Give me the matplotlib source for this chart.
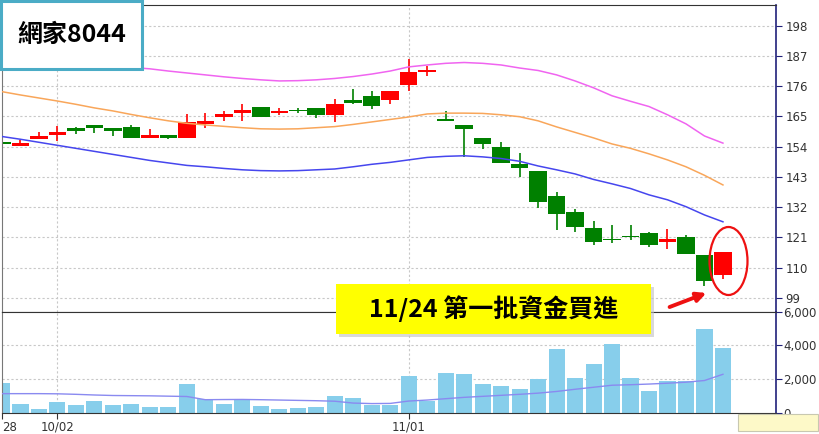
import numpy as np
import matplotlib
matplotlib.use("Agg")
import matplotlib.pyplot as plt
from matplotlib.patches import Rectangle, Ellipse, FancyArrowPatch

# daily data, 2017/09/28 .. 2017/11/24 (40 trading days)
opens = [155.6, 154.4, 156.8, 158.3, 160.7, 161.8, 160.7, 161.1, 157.3, 158.3,
         157.3, 162.4, 164.9, 166.4, 168.3, 166.2, 167.3, 168.0, 165.6, 170.9,
         172.5, 171.0, 176.5, 181.3, 163.7, 161.9, 157.1, 153.8, 147.7, 145.0,
         135.9, 130.4, 124.4, 120.5, 121.7, 122.8, 119.3, 121.3, 114.7, 107.2]
highs = [156.0, 156.5, 159.3, 161.7, 161.1, 161.9, 160.7, 161.9, 160.4, 158.3,
         165.8, 166.3, 167.1, 169.5, 168.5, 168.0, 168.2, 168.0, 171.2, 174.9,
         174.4, 174.4, 185.7, 183.2, 167.1, 161.9, 157.1, 155.6, 151.6, 145.0,
         137.7, 131.3, 127.1, 125.6, 125.6, 123.1, 124.1, 121.9, 114.7, 115.9]
lows = [154.6, 154.2, 156.8, 156.1, 158.5, 158.8, 157.9, 157.3, 157.3, 156.7,
        157.3, 160.7, 163.3, 163.5, 164.7, 165.6, 166.2, 164.6, 162.8, 169.4,
        167.6, 169.5, 174.4, 179.7, 163.5, 150.4, 153.1, 148.0, 143.1, 131.6,
        123.8, 123.0, 118.3, 118.9, 120.1, 117.5, 116.8, 115.0, 103.2, 105.9]
closes = [154.8, 155.5, 158.0, 159.3, 159.8, 160.7, 159.7, 157.3, 158.3, 157.3,
          163.1, 163.4, 165.8, 167.4, 164.9, 167.0, 166.9, 165.6, 169.5, 170.0,
          168.8, 174.4, 181.3, 181.8, 163.5, 160.5, 154.9, 148.0, 146.2, 133.8,
          129.6, 124.9, 119.3, 120.0, 121.1, 118.3, 120.4, 115.0, 105.3, 115.7]

band_up = [186.0, 185.5, 185.0, 184.5, 184.0, 183.5, 183.2, 182.8, 182.3, 181.5,
           180.8, 180.1, 179.4, 178.8, 178.3, 177.9, 178.0, 178.3, 178.8, 179.5,
           180.4, 181.5, 183.0, 183.7, 184.3, 184.6, 184.3, 183.7, 182.6, 181.7,
           180.1, 177.9, 175.4, 172.5, 170.5, 168.6, 165.6, 162.3, 157.9, 155.3]
band_mid = [174.0, 172.8, 171.7, 170.6, 169.4, 168.1, 167.0, 165.7, 164.5, 163.4,
            162.5, 161.9, 161.4, 160.9, 160.5, 160.4, 160.5, 160.9, 161.3, 162.1,
            163.0, 163.9, 164.8, 165.9, 166.2, 166.2, 166.1, 165.6, 164.9, 163.4,
            161.2, 159.2, 157.2, 155.0, 153.4, 151.4, 149.2, 146.7, 143.6, 140.1]
band_low = [157.7, 156.7, 155.6, 154.5, 153.4, 152.3, 151.2, 150.1, 149.0, 148.1,
            147.2, 146.7, 146.1, 145.6, 145.3, 145.2, 145.3, 145.6, 145.9, 146.7,
            147.6, 148.3, 149.2, 150.1, 150.5, 150.7, 150.3, 149.7, 148.7, 147.0,
            145.6, 144.1, 142.1, 140.5, 138.8, 136.5, 134.7, 132.2, 129.2, 126.7]

volumes = [1750, 480, 200, 620, 420, 680, 420, 500, 320, 320,
           1690, 780, 500, 820, 380, 220, 260, 320, 980, 880,
           440, 460, 2150, 660, 2350, 2270, 1670, 1560, 1380, 2010,
           3750, 2070, 2910, 4070, 2070, 1260, 1850, 1860, 4950, 3810]
vol_ma = [1120, 1120, 1120, 1110, 1080, 1040, 1010, 1000, 990, 970,
          950, 760, 770, 775, 760, 740, 720, 700, 670, 560,
          530, 540, 680, 740, 820, 900, 960, 1020, 1080, 1150,
          1250, 1380, 1500, 1620, 1650, 1690, 1740, 1800, 1900, 2270]

date_ticks = [0, 3, 22]
date_labels = ["28", "10/02", "11/01"]   # 09/28 is cut at the left edge
price_ticks = [99, 110, 121, 132, 143, 154, 165, 176, 187, 198]
vol_ticks = [0, 2000, 4000, 6000]
vol_labels = ["0", "2,000", "4,000", "6,000"]

title = "網家8044"
note = "11/24 第一批資金買進"

W, H = 820, 434
def fx(px):
    return px / W
def fy(py):
    return 1 - py / H

cjk = ["Noto Sans CJK TC", "DejaVu Sans"]
grid_kw = dict(color="#c8c8c8", lw=0.8, ls=(0, (2, 2)))

fig = plt.figure(figsize=(W / 100, H / 100), dpi=100)
ax = fig.add_axes([fx(2), fy(311.5), fx(774), 306.5 / H])
axv = fig.add_axes([fx(2), fy(412.5), fx(774), 101 / H], sharex=ax)

x = np.arange(len(opens))
o = np.array(opens); c = np.array(closes)
up = c >= o
cols = np.where(up, "#ff0000", "#008000")
bottom = np.minimum(o, c)
height = np.maximum(np.abs(c - o), 0.4)

ax.vlines(x, lows, highs, colors=cols, lw=1.2, zorder=2)
ax.bar(x, height, width=0.95, bottom=bottom, color=cols, zorder=2)

ax.plot(x, band_up, color="#f064f0", lw=1.1, zorder=3)
ax.plot(x, band_mid, color="#f9a65a", lw=1.1, zorder=3)
ax.plot(x, band_low, color="#4646ee", lw=1.1, zorder=3)

axv.bar(x, volumes, width=0.87, color="#87ceeb", zorder=2)
axv.plot(x, vol_ma, color="#8a8af0", lw=1.0, zorder=3)

ax.set_xlim(0.054, 41.87)
ax.set_ylim(94.1, 205.5)
axv.set_ylim(0, 6000)

for a in (ax, axv):
    a.yaxis.tick_right()
    a.tick_params(axis="y", length=4, width=0.8, color="#20207a", pad=3,
                  labelsize=8.5, labelcolor="#333333")
    a.spines["right"].set_color("#20207a")
    a.spines["right"].set_linewidth(1.2)
    a.spines["left"].set_color("#777777")
    a.spines["top"].set_color("#333333")
    a.spines["bottom"].set_color("#333333")
    for t in date_ticks[1:]:
        a.axvline(t, zorder=0, **grid_kw)

ax.set_yticks(price_ticks)
for p in price_ticks:
    ax.axhline(p, zorder=0, **grid_kw)
ax.tick_params(axis="x", bottom=False, labelbottom=False)

axv.set_yticks(vol_ticks)
axv.set_yticklabels(vol_labels)
axv.tick_params(axis="y", pad=1)
for v in vol_ticks[1:3]:
    axv.axhline(v, zorder=0, **grid_kw)
axv.set_xticks(date_ticks)
axv.set_xticklabels(date_labels)
axv.tick_params(axis="x", length=4, color="#333333", labelsize=8.5,
                labelcolor="#333333", pad=2)
axv.get_xticklabels()[0].set_horizontalalignment("left")

# title box
fig.add_artist(Rectangle((fx(1.5), fy(69)), fx(141), 67.5 / H,
                         transform=fig.transFigure, facecolor="white",
                         edgecolor="#4bacc6", lw=2.2, zorder=5))
fig.text(fx(71.5), fy(35), title, family=cjk, fontsize=18, fontweight="bold",
         ha="center", va="center", zorder=6)

# yellow note
fig.add_artist(Rectangle((fx(339), fy(337)), fx(315), 50 / H,
                         transform=fig.transFigure, facecolor="#c0c0c0",
                         edgecolor="none", alpha=0.6, zorder=5))
fig.add_artist(Rectangle((fx(336), fy(334)), fx(315), 50 / H,
                         transform=fig.transFigure, facecolor="#ffff00",
                         edgecolor="none", zorder=5))
fig.text(fx(493.5), fy(309), note, family=cjk, fontsize=18, fontweight="bold",
         ha="center", va="center", zorder=6)

# red arrow and circle
fig.add_artist(FancyArrowPatch((fx(667), fy(308)), (fx(709), fy(292)),
                               transform=fig.transFigure, color="#ee1111",
                               lw=2.8, arrowstyle="-|>", mutation_scale=14,
                               zorder=6))
fig.add_artist(Ellipse((fx(728.5), fy(261)), fx(38), 68 / H,
                       transform=fig.transFigure, facecolor="none",
                       edgecolor="#ee1111", lw=1.6, zorder=6))

# pale box bottom right
fig.add_artist(Rectangle((fx(738), fy(431)), fx(80), 17 / H,
                         transform=fig.transFigure, facecolor="#fdf9c8",
                         edgecolor="#c8c8b0", lw=0.8, zorder=5))

fig.savefig("out.png", dpi=100)
